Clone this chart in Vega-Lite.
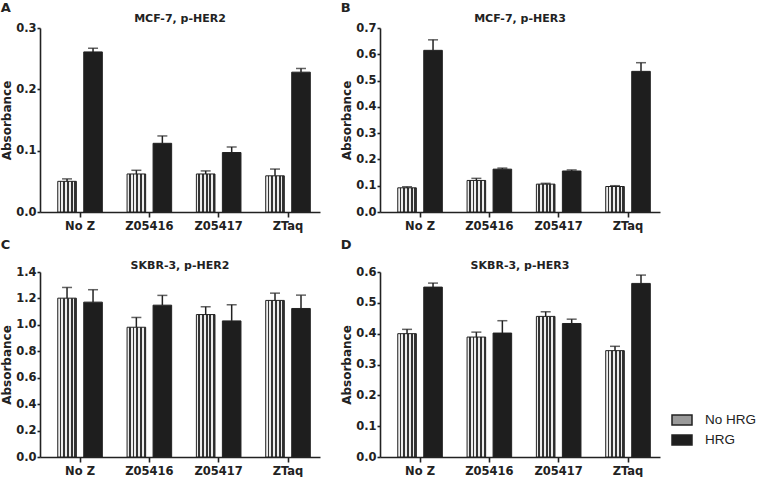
{
  "$schema": "https://vega.github.io/schema/vega-lite/v6.json",
  "padding": {"left": 0, "top": 2, "right": 0, "bottom": 0},
  "background": "white",
  "data": {"values": [
    {"panel": "A", "zone": "No Z", "treatment": "No HRG", "mean": 0.050, "hi": 0.054},
    {"panel": "A", "zone": "No Z", "treatment": "HRG", "mean": 0.261, "hi": 0.267},
    {"panel": "A", "zone": "Z05416", "treatment": "No HRG", "mean": 0.062, "hi": 0.068},
    {"panel": "A", "zone": "Z05416", "treatment": "HRG", "mean": 0.112, "hi": 0.124},
    {"panel": "A", "zone": "Z05417", "treatment": "No HRG", "mean": 0.062, "hi": 0.067},
    {"panel": "A", "zone": "Z05417", "treatment": "HRG", "mean": 0.097, "hi": 0.106},
    {"panel": "A", "zone": "ZTaq", "treatment": "No HRG", "mean": 0.059, "hi": 0.070},
    {"panel": "A", "zone": "ZTaq", "treatment": "HRG", "mean": 0.228, "hi": 0.234},
    {"panel": "B", "zone": "No Z", "treatment": "No HRG", "mean": 0.092, "hi": 0.096},
    {"panel": "B", "zone": "No Z", "treatment": "HRG", "mean": 0.615, "hi": 0.655},
    {"panel": "B", "zone": "Z05416", "treatment": "No HRG", "mean": 0.120, "hi": 0.128},
    {"panel": "B", "zone": "Z05416", "treatment": "HRG", "mean": 0.163, "hi": 0.167},
    {"panel": "B", "zone": "Z05417", "treatment": "No HRG", "mean": 0.106, "hi": 0.109},
    {"panel": "B", "zone": "Z05417", "treatment": "HRG", "mean": 0.156, "hi": 0.160},
    {"panel": "B", "zone": "ZTaq", "treatment": "No HRG", "mean": 0.097, "hi": 0.100},
    {"panel": "B", "zone": "ZTaq", "treatment": "HRG", "mean": 0.535, "hi": 0.568},
    {"panel": "C", "zone": "No Z", "treatment": "No HRG", "mean": 1.202, "hi": 1.283},
    {"panel": "C", "zone": "No Z", "treatment": "HRG", "mean": 1.172, "hi": 1.266},
    {"panel": "C", "zone": "Z05416", "treatment": "No HRG", "mean": 0.982, "hi": 1.056},
    {"panel": "C", "zone": "Z05416", "treatment": "HRG", "mean": 1.149, "hi": 1.223},
    {"panel": "C", "zone": "Z05417", "treatment": "No HRG", "mean": 1.078, "hi": 1.137},
    {"panel": "C", "zone": "Z05417", "treatment": "HRG", "mean": 1.030, "hi": 1.152},
    {"panel": "C", "zone": "ZTaq", "treatment": "No HRG", "mean": 1.185, "hi": 1.240},
    {"panel": "C", "zone": "ZTaq", "treatment": "HRG", "mean": 1.124, "hi": 1.225},
    {"panel": "D", "zone": "No Z", "treatment": "No HRG", "mean": 0.400, "hi": 0.414},
    {"panel": "D", "zone": "No Z", "treatment": "HRG", "mean": 0.551, "hi": 0.564},
    {"panel": "D", "zone": "Z05416", "treatment": "No HRG", "mean": 0.389, "hi": 0.405},
    {"panel": "D", "zone": "Z05416", "treatment": "HRG", "mean": 0.402, "hi": 0.442},
    {"panel": "D", "zone": "Z05417", "treatment": "No HRG", "mean": 0.456, "hi": 0.471},
    {"panel": "D", "zone": "Z05417", "treatment": "HRG", "mean": 0.433, "hi": 0.447},
    {"panel": "D", "zone": "ZTaq", "treatment": "No HRG", "mean": 0.345, "hi": 0.359},
    {"panel": "D", "zone": "ZTaq", "treatment": "HRG", "mean": 0.563, "hi": 0.590}
  ]},
  "spacing": 7,
  "vconcat": [
    {
      "spacing": 20,
      "hconcat": [
        {
          "title": {"text": "A", "anchor": "start", "fontSize": 13, "offset": -2},
          "vconcat": [{
            "title": {"text": "MCF-7, p-HER2", "fontSize": 11, "anchor": "middle", "frame": "group", "offset": -2},
            "width": 280, "height": 184,
            "transform": [{"filter": "datum.panel === 'A'"}],
            "encoding": {
              "x": {"field": "zone", "type": "nominal", "sort": ["No Z", "Z05416", "Z05417", "ZTaq"], "scale": {"paddingInner": 0.077, "paddingOuter": 0.058, "align": 1}, "axis": {"title": null, "labelAngle": 0}},
              "xOffset": {"field": "treatment", "type": "nominal", "sort": ["No HRG", "HRG"], "scale": {"paddingInner": 0.285, "paddingOuter": 0.373}}
            },
            "layer": [
              {"mark": {"type": "bar", "stroke": "#222", "strokeWidth": 1},
               "encoding": {
                 "y": {"field": "mean", "type": "quantitative", "scale": {"domain": [0, 0.3], "nice": false}, "axis": {"title": "Absorbance", "values": [0, 0.1, 0.2, 0.3], "format": ".1f"}},
                 "fill": {"field": "treatment", "type": "nominal", "scale": {"domain": ["No HRG", "HRG"], "range": ["#9a9a9a", "#1e1e1e"]},
                   "condition": {"test": "datum.treatment === 'No HRG'", "value": {"gradient": "linear", "x1": 0, "y1": 0, "x2": 1, "y2": 0, "stops": [{"offset": 0, "color": "#ececec"}, {"offset": 0.1, "color": "#ececec"}, {"offset": 0.1, "color": "#333333"}, {"offset": 0.2, "color": "#333333"}, {"offset": 0.2, "color": "#ececec"}, {"offset": 0.3, "color": "#ececec"}, {"offset": 0.3, "color": "#333333"}, {"offset": 0.4, "color": "#333333"}, {"offset": 0.4, "color": "#ececec"}, {"offset": 0.5, "color": "#ececec"}, {"offset": 0.5, "color": "#333333"}, {"offset": 0.6, "color": "#333333"}, {"offset": 0.6, "color": "#ececec"}, {"offset": 0.7, "color": "#ececec"}, {"offset": 0.7, "color": "#333333"}, {"offset": 0.8, "color": "#333333"}, {"offset": 0.8, "color": "#ececec"}, {"offset": 0.9, "color": "#ececec"}, {"offset": 0.9, "color": "#333333"}, {"offset": 1, "color": "#333333"}]}}}
               }},
              {"mark": {"type": "rule", "strokeWidth": 1.5, "color": "#222"},
               "encoding": {"y": {"field": "mean", "type": "quantitative", "axis": {"title": "Absorbance", "values": [0, 0.1, 0.2, 0.3], "format": ".1f"}}, "y2": {"field": "hi"}}},
              {"mark": {"type": "tick", "size": 10, "thickness": 1.5, "color": "#222"},
               "encoding": {"y": {"field": "hi", "type": "quantitative", "axis": {"title": "Absorbance", "values": [0, 0.1, 0.2, 0.3], "format": ".1f"}}}}
            ]
          }]
        },
        {
          "title": {"text": "B", "anchor": "start", "fontSize": 13, "offset": -2},
          "vconcat": [{
            "title": {"text": "MCF-7, p-HER3", "fontSize": 11, "anchor": "middle", "frame": "group", "offset": -2},
            "width": 280, "height": 184,
            "transform": [{"filter": "datum.panel === 'B'"}],
            "encoding": {
              "x": {"field": "zone", "type": "nominal", "sort": ["No Z", "Z05416", "Z05417", "ZTaq"], "scale": {"paddingInner": 0.077, "paddingOuter": 0.058, "align": 1}, "axis": {"title": null, "labelAngle": 0}},
              "xOffset": {"field": "treatment", "type": "nominal", "sort": ["No HRG", "HRG"], "scale": {"paddingInner": 0.285, "paddingOuter": 0.373}}
            },
            "layer": [
              {"mark": {"type": "bar", "stroke": "#222", "strokeWidth": 1},
               "encoding": {
                 "y": {"field": "mean", "type": "quantitative", "scale": {"domain": [0, 0.7], "nice": false}, "axis": {"title": "Absorbance", "values": [0, 0.1, 0.2, 0.3, 0.4, 0.5, 0.6, 0.7], "format": ".1f"}},
                 "fill": {"field": "treatment", "type": "nominal", "scale": {"domain": ["No HRG", "HRG"], "range": ["#9a9a9a", "#1e1e1e"]},
                   "condition": {"test": "datum.treatment === 'No HRG'", "value": {"gradient": "linear", "x1": 0, "y1": 0, "x2": 1, "y2": 0, "stops": [{"offset": 0, "color": "#ececec"}, {"offset": 0.1, "color": "#ececec"}, {"offset": 0.1, "color": "#333333"}, {"offset": 0.2, "color": "#333333"}, {"offset": 0.2, "color": "#ececec"}, {"offset": 0.3, "color": "#ececec"}, {"offset": 0.3, "color": "#333333"}, {"offset": 0.4, "color": "#333333"}, {"offset": 0.4, "color": "#ececec"}, {"offset": 0.5, "color": "#ececec"}, {"offset": 0.5, "color": "#333333"}, {"offset": 0.6, "color": "#333333"}, {"offset": 0.6, "color": "#ececec"}, {"offset": 0.7, "color": "#ececec"}, {"offset": 0.7, "color": "#333333"}, {"offset": 0.8, "color": "#333333"}, {"offset": 0.8, "color": "#ececec"}, {"offset": 0.9, "color": "#ececec"}, {"offset": 0.9, "color": "#333333"}, {"offset": 1, "color": "#333333"}]}}}
               }},
              {"mark": {"type": "rule", "strokeWidth": 1.5, "color": "#222"},
               "encoding": {"y": {"field": "mean", "type": "quantitative", "axis": {"title": "Absorbance", "values": [0, 0.1, 0.2, 0.3, 0.4, 0.5, 0.6, 0.7], "format": ".1f"}}, "y2": {"field": "hi"}}},
              {"mark": {"type": "tick", "size": 10, "thickness": 1.5, "color": "#222"},
               "encoding": {"y": {"field": "hi", "type": "quantitative", "axis": {"title": "Absorbance", "values": [0, 0.1, 0.2, 0.3, 0.4, 0.5, 0.6, 0.7], "format": ".1f"}}}}
            ]
          }]
        }
      ]
    },
    {
      "spacing": 20,
      "hconcat": [
        {
          "title": {"text": "C", "anchor": "start", "fontSize": 13, "offset": 7.5},
          "vconcat": [{
            "title": {"text": "SKBR-3, p-HER2", "fontSize": 11, "anchor": "middle", "frame": "group", "offset": -4.5},
            "width": 280, "height": 185,
            "transform": [{"filter": "datum.panel === 'C'"}],
            "encoding": {
              "x": {"field": "zone", "type": "nominal", "sort": ["No Z", "Z05416", "Z05417", "ZTaq"], "scale": {"paddingInner": 0.077, "paddingOuter": 0.058, "align": 1}, "axis": {"title": null, "labelAngle": 0}},
              "xOffset": {"field": "treatment", "type": "nominal", "sort": ["No HRG", "HRG"], "scale": {"paddingInner": 0.285, "paddingOuter": 0.373}}
            },
            "layer": [
              {"mark": {"type": "bar", "stroke": "#222", "strokeWidth": 1},
               "encoding": {
                 "y": {"field": "mean", "type": "quantitative", "scale": {"domain": [0, 1.4], "nice": false}, "axis": {"title": "Absorbance", "values": [0, 0.2, 0.4, 0.6, 0.8, 1.0, 1.2, 1.4], "format": ".1f"}},
                 "fill": {"field": "treatment", "type": "nominal", "scale": {"domain": ["No HRG", "HRG"], "range": ["#9a9a9a", "#1e1e1e"]},
                   "condition": {"test": "datum.treatment === 'No HRG'", "value": {"gradient": "linear", "x1": 0, "y1": 0, "x2": 1, "y2": 0, "stops": [{"offset": 0, "color": "#ececec"}, {"offset": 0.1, "color": "#ececec"}, {"offset": 0.1, "color": "#333333"}, {"offset": 0.2, "color": "#333333"}, {"offset": 0.2, "color": "#ececec"}, {"offset": 0.3, "color": "#ececec"}, {"offset": 0.3, "color": "#333333"}, {"offset": 0.4, "color": "#333333"}, {"offset": 0.4, "color": "#ececec"}, {"offset": 0.5, "color": "#ececec"}, {"offset": 0.5, "color": "#333333"}, {"offset": 0.6, "color": "#333333"}, {"offset": 0.6, "color": "#ececec"}, {"offset": 0.7, "color": "#ececec"}, {"offset": 0.7, "color": "#333333"}, {"offset": 0.8, "color": "#333333"}, {"offset": 0.8, "color": "#ececec"}, {"offset": 0.9, "color": "#ececec"}, {"offset": 0.9, "color": "#333333"}, {"offset": 1, "color": "#333333"}]}}}
               }},
              {"mark": {"type": "rule", "strokeWidth": 1.5, "color": "#222"},
               "encoding": {"y": {"field": "mean", "type": "quantitative", "axis": {"title": "Absorbance", "values": [0, 0.2, 0.4, 0.6, 0.8, 1.0, 1.2, 1.4], "format": ".1f"}}, "y2": {"field": "hi"}}},
              {"mark": {"type": "tick", "size": 10, "thickness": 1.5, "color": "#222"},
               "encoding": {"y": {"field": "hi", "type": "quantitative", "axis": {"title": "Absorbance", "values": [0, 0.2, 0.4, 0.6, 0.8, 1.0, 1.2, 1.4], "format": ".1f"}}}}
            ]
          }]
        },
        {
          "title": {"text": "D", "anchor": "start", "fontSize": 13, "offset": 7.5},
          "vconcat": [{
            "title": {"text": "SKBR-3, p-HER3", "fontSize": 11, "anchor": "middle", "frame": "group", "offset": -4.5},
            "width": 280, "height": 185,
            "transform": [{"filter": "datum.panel === 'D'"}],
            "encoding": {
              "x": {"field": "zone", "type": "nominal", "sort": ["No Z", "Z05416", "Z05417", "ZTaq"], "scale": {"paddingInner": 0.077, "paddingOuter": 0.058, "align": 1}, "axis": {"title": null, "labelAngle": 0}},
              "xOffset": {"field": "treatment", "type": "nominal", "sort": ["No HRG", "HRG"], "scale": {"paddingInner": 0.285, "paddingOuter": 0.373}}
            },
            "layer": [
              {"mark": {"type": "bar", "stroke": "#222", "strokeWidth": 1},
               "encoding": {
                 "y": {"field": "mean", "type": "quantitative", "scale": {"domain": [0, 0.6], "nice": false}, "axis": {"title": "Absorbance", "values": [0, 0.1, 0.2, 0.3, 0.4, 0.5, 0.6], "format": ".1f"}},
                 "fill": {"field": "treatment", "type": "nominal", "scale": {"domain": ["No HRG", "HRG"], "range": ["#9a9a9a", "#1e1e1e"]},
                   "legend": {"title": null, "orient": "none", "legendX": 631, "legendY": 381, "padding": 0, "symbolType": "M-1,-0.5H1V0.5H-1Z", "symbolSize": 400,
                     "encode": {"symbols": {"update": {
                       "fill": {"condition": {"test": "datum.value === 'No HRG'", "value": {"gradient": "linear", "x1": 0, "y1": 0, "x2": 1, "y2": 0, "stops": [{"offset": 0, "color": "#ececec"}, {"offset": 0.1, "color": "#ececec"}, {"offset": 0.1, "color": "#333333"}, {"offset": 0.2, "color": "#333333"}, {"offset": 0.2, "color": "#ececec"}, {"offset": 0.3, "color": "#ececec"}, {"offset": 0.3, "color": "#333333"}, {"offset": 0.4, "color": "#333333"}, {"offset": 0.4, "color": "#ececec"}, {"offset": 0.5, "color": "#ececec"}, {"offset": 0.5, "color": "#333333"}, {"offset": 0.6, "color": "#333333"}, {"offset": 0.6, "color": "#ececec"}, {"offset": 0.7, "color": "#ececec"}, {"offset": 0.7, "color": "#333333"}, {"offset": 0.8, "color": "#333333"}, {"offset": 0.8, "color": "#ececec"}, {"offset": 0.9, "color": "#ececec"}, {"offset": 0.9, "color": "#333333"}, {"offset": 1, "color": "#333333"}]}}, "value": "#1e1e1e"},
                       "stroke": {"value": "#222"}, "strokeWidth": {"value": 1}, "opacity": {"value": 1}}}}},
                   "condition": {"test": "datum.treatment === 'No HRG'", "value": {"gradient": "linear", "x1": 0, "y1": 0, "x2": 1, "y2": 0, "stops": [{"offset": 0, "color": "#ececec"}, {"offset": 0.1, "color": "#ececec"}, {"offset": 0.1, "color": "#333333"}, {"offset": 0.2, "color": "#333333"}, {"offset": 0.2, "color": "#ececec"}, {"offset": 0.3, "color": "#ececec"}, {"offset": 0.3, "color": "#333333"}, {"offset": 0.4, "color": "#333333"}, {"offset": 0.4, "color": "#ececec"}, {"offset": 0.5, "color": "#ececec"}, {"offset": 0.5, "color": "#333333"}, {"offset": 0.6, "color": "#333333"}, {"offset": 0.6, "color": "#ececec"}, {"offset": 0.7, "color": "#ececec"}, {"offset": 0.7, "color": "#333333"}, {"offset": 0.8, "color": "#333333"}, {"offset": 0.8, "color": "#ececec"}, {"offset": 0.9, "color": "#ececec"}, {"offset": 0.9, "color": "#333333"}, {"offset": 1, "color": "#333333"}]}}}
               }},
              {"mark": {"type": "rule", "strokeWidth": 1.5, "color": "#222"},
               "encoding": {"y": {"field": "mean", "type": "quantitative", "axis": {"title": "Absorbance", "values": [0, 0.1, 0.2, 0.3, 0.4, 0.5, 0.6], "format": ".1f"}}, "y2": {"field": "hi"}}},
              {"mark": {"type": "tick", "size": 10, "thickness": 1.5, "color": "#222"},
               "encoding": {"y": {"field": "hi", "type": "quantitative", "axis": {"title": "Absorbance", "values": [0, 0.1, 0.2, 0.3, 0.4, 0.5, 0.6], "format": ".1f"}}}}
            ]
          }]
        }
      ]
    }
  ],
  "config": {
    "view": {"stroke": null},
    "font": "DejaVu Sans",
    "title": {"font": "DejaVu Sans", "fontWeight": "bold", "color": "#222"},
    "axis": {"grid": false, "domainColor": "#222", "domainWidth": 1.6, "tickColor": "#222", "tickWidth": 1.6, "tickSize": 4,
      "labelFont": "DejaVu Sans", "labelFontWeight": "bold", "labelFontSize": 11.5, "labelColor": "#222",
      "titleFont": "DejaVu Sans", "titleFontWeight": "bold", "titleFontSize": 12, "titleColor": "#222"},
    "axisY": {"labelPadding": 1, "titlePadding": 2, "tickSize": 3},
    "axisX": {"labelPadding": 3, "tickSize": 5},
    "legend": {"symbolType": "M-1,-0.5H1V0.5H-1Z", "symbolSize": 400, "labelFont": "Liberation Sans", "labelFontSize": 13.5, "labelColor": "#222", "labelOffset": 12, "rowPadding": 1, "labelLimit": 200}
  }
}
